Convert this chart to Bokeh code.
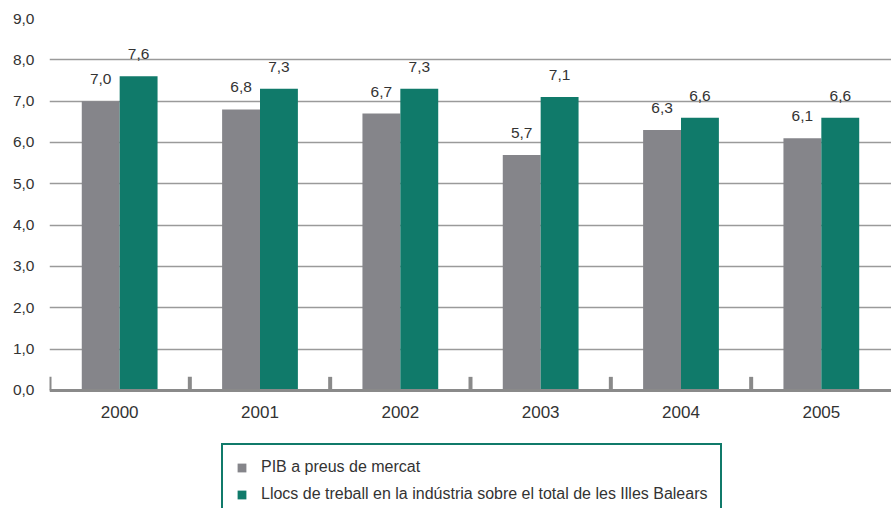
from bokeh.plotting import figure
from bokeh.models import ColumnDataSource, FactorRange, FixedTicker, Legend, LegendItem, Range1d, Span
from bokeh.transform import dodge
from bokeh.core.properties import value
from bokeh.embed import file_html
from bokeh.resources import INLINE

years = ["2000", "2001", "2002", "2003", "2004", "2005"]
pib = [7.0, 6.8, 6.7, 5.7, 6.3, 6.1]
llocs = [7.6, 7.3, 7.3, 7.1, 6.6, 6.6]
y_ticks = [0, 1, 2, 3, 4, 5, 6, 7, 8, 9]
y_tick_labels = ["0,0", "1,0", "2,0", "3,0", "4,0", "5,0", "6,0", "7,0", "8,0", "9,0"]
series_names = ["PIB a preus de mercat",
                "Llocs de treball en la indústria sobre el total de les Illes Balears"]

GRAY = "#85858a"
GREEN = "#107a6a"
TEXT = "#333333"
AXIS = "#8a8a8a"
FONT = "Liberation Sans"

def fmt(v):
    return f"{v:.1f}".replace(".", ",")

src = ColumnDataSource(dict(
    years=years, pib=pib, llocs=llocs,
    pib_lbl=[fmt(v) for v in pib], llocs_lbl=[fmt(v) for v in llocs],
    zero=[0] * len(years), stub=[0.33] * len(years),
))

# frame covers the whole lower area so the legend can sit below the baseline
p = figure(x_range=FactorRange(factors=years, range_padding=0), y_range=Range1d(-2.855, 9),
           width=891, height=508, output_backend="svg", toolbar_location=None,
           min_border_left=49, min_border_right=0, min_border_top=18, min_border_bottom=0)
p.outline_line_color = None
p.background_fill_color = "white"
p.xaxis.visible = False

# grid
p.xgrid.grid_line_color = None
p.ygrid.ticker = FixedTicker(ticks=y_ticks[1:])
p.ygrid.grid_line_color = "#9a9a9a"
p.ygrid.grid_line_width = 1.5

bw = 0.27
r1 = p.vbar(x=dodge("years", -bw / 2, range=p.x_range), top="pib", width=bw,
            source=src, fill_color=GRAY, line_color=None)
r2 = p.vbar(x=dodge("years", bw / 2, range=p.x_range), top="llocs", width=bw,
            source=src, fill_color=GREEN, line_color=None)

# baseline
p.add_layout(Span(location=0, dimension="width", line_color=AXIS, line_width=3))

# small stubs at category boundaries
p.segment(x0=dodge("years", -0.5, range=p.x_range), y0="zero",
          x1=dodge("years", -0.5, range=p.x_range), y1="stub",
          source=src, line_color=AXIS, line_width=4)

# value labels
for col, lbl, off in (("pib", "pib_lbl", -bw / 2), ("llocs", "llocs_lbl", bw / 2)):
    p.text(x=dodge("years", off, range=p.x_range), y=col, text=lbl, source=src,
           text_align="center", text_baseline="alphabetic", y_offset=-22,
           text_font=value(FONT), text_font_size="15.5px", text_color=TEXT)

# category labels under the baseline
p.text(x="years", y="zero", text="years", source=src,
       text_align="center", text_baseline="alphabetic", y_offset=22,
       text_font=value(FONT), text_font_size="17px", text_color=TEXT)

# y axis
p.yaxis.ticker = FixedTicker(ticks=y_ticks)
p.yaxis.major_label_overrides = {t: l for t, l in zip(y_ticks, y_tick_labels)}
p.yaxis.axis_line_color = None
p.yaxis.major_tick_line_color = None
p.yaxis.minor_tick_line_color = None
p.yaxis.major_tick_in = 0
p.yaxis.major_tick_out = 0
p.yaxis.major_label_standoff = 15
p.yaxis.major_label_text_font = FONT
p.yaxis.major_label_text_font_size = "15.5px"
p.yaxis.major_label_text_color = TEXT

legend = Legend(items=[LegendItem(label=series_names[0], renderers=[r1]),
                       LegendItem(label=series_names[1], renderers=[r2])],
                location=(172, -10), orientation="vertical",
                border_line_color=GREEN, border_line_width=2, border_line_alpha=1,
                background_fill_color="white", background_fill_alpha=1,
                padding=13, margin=0, spacing=9,
                glyph_width=11, glyph_height=11, label_standoff=14, label_height=18,
                label_text_font=FONT, label_text_font_size="16px", label_text_color=TEXT)
p.add_layout(legend, "center")

open("out.html", "w").write(file_html(p, INLINE))
